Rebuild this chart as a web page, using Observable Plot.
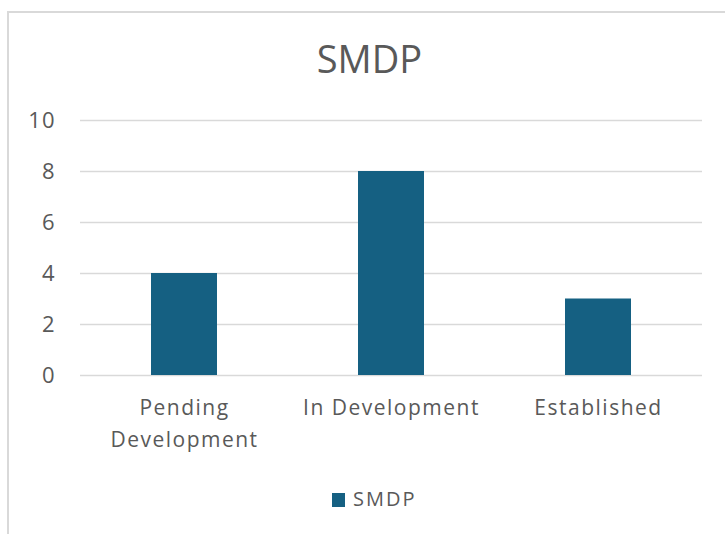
<!DOCTYPE html>
<html>
<head>
<meta charset="utf-8">
<script src="https://cdn.jsdelivr.net/npm/d3@7"></script>
<script src="https://cdn.jsdelivr.net/npm/@observablehq/plot@0.6"></script>
<style>
  html, body { margin: 0; padding: 0; background: #fff; }
  body { width: 725px; height: 534px; overflow: hidden; position: relative; font-family: "Open Sans", sans-serif; color: #595959; }
  #frame { position: absolute; left: 7px; top: 11px; width: 726px; height: 560px; border: 2px solid #d9d9d9; box-sizing: border-box; }
  #title { position: absolute; left: 0; width: 739px; top: 39px; text-align: center; font-size: 38px; line-height: 38px; color: #595959; }
  #chart { position: absolute; left: 0; top: 100px; }
  #legend-swatch { position: absolute; left: 332px; top: 493px; width: 13px; height: 14px; background: #156082; }
  #legend-label { position: absolute; left: 353px; top: 489px; font-size: 20px; line-height: 20px; letter-spacing: 2px; color: #595959; }
  g[aria-label="x-axis tick label"] text { letter-spacing: 1.5px; }
  g[aria-label="y-axis tick label"] text { letter-spacing: 1px; }
</style>
</head>
<body>
<div id="frame"></div>
<div id="title"></div>
<div id="chart"></div>
<div id="legend-swatch"></div>
<div id="legend-label"></div>
<script>
const chartTitle = "SMDP";
const seriesName = "SMDP";
const categories = ["Pending\nDevelopment", "In Development", "Established"];
const values = [4, 8, 3];
const yTicks = [0, 2, 4, 6, 8, 10];
const barColor = "#156082";

const data = categories.map((c, i) => ({category: c, value: values[i]}));

document.getElementById("title").textContent = chartTitle;
document.getElementById("legend-label").textContent = seriesName;
document.getElementById("legend-swatch").style.background = barColor;

const chart = Plot.plot({
  width: 725,
  height: 360,
  marginTop: 20,
  marginBottom: 85,
  marginLeft: 80,
  marginRight: 23,
  style: {fontFamily: "Open Sans, sans-serif", color: "#595959", background: "transparent", overflow: "visible"},
  x: {domain: categories, paddingInner: 0.68, paddingOuter: 0.34, axis: null},
  y: {domain: [0, 10], axis: null},
  marks: [
    Plot.gridY(yTicks, {stroke: "#d9d9d9", strokeOpacity: 1, strokeWidth: 1.5}),
    Plot.barY(data, {x: "category", y: "value", fill: barColor}),
    Plot.axisY(yTicks, {tickSize: 0, tickPadding: 25, fontSize: 22, label: null}),
    Plot.axisX({tickSize: 0, tickPadding: 16, fontSize: 21, lineHeight: 1.55, label: null})
  ]
});
document.getElementById("chart").appendChild(chart);
</script>
</body>
</html>
